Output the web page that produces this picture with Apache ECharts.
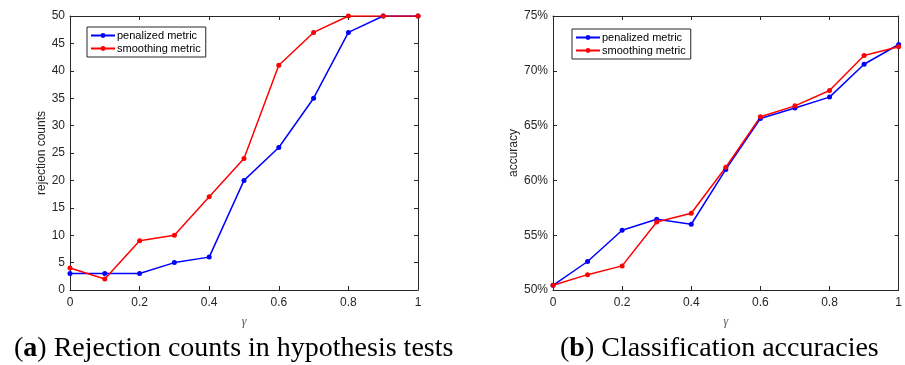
<!DOCTYPE html>
<html><head><meta charset="utf-8">
<script src="https://cdn.jsdelivr.net/npm/echarts@6/dist/echarts.min.js"></script>
<style>html,body{margin:0;padding:0;background:#fff}#c{width:905px;height:365px}</style>
</head><body><div id="c"></div>
<script>
const gammas = [0,0.1,0.2,0.3,0.4,0.5,0.6,0.7,0.8,0.9,1];
const rejPenalized = [3,3,3,5,6,20,26,35,47,50,50];
const rejSmoothing = [4,2,9,10,17,24,41,47,50,50,50];
const accPenalized = [50.43,52.6,55.45,56.45,56.0,61.0,65.65,66.6,67.6,70.6,72.4];
const accSmoothing = [50.43,51.4,52.2,56.2,57.0,61.2,65.8,66.8,68.2,71.4,72.2];
const seriesNames = ['penalized metric','smoothing metric'];
const captionA = 'Rejection counts in hypothesis tests';
const captionB = 'Classification accuracies';

const pairs = (xs, ys) => xs.map((x,i)=>[x, ys[i]]);
const AX = '#262626';
const SANS = '"Liberation Sans", Arial, sans-serif';
const SERIF = '"Liberation Serif", "DejaVu Serif", serif';
const tickStyle = {show:true, inside:true, length:4, lineStyle:{color:AX}};
const lineStyle = {lineStyle:{color:AX, width:1}};

function xAx(g, bottom){
  return {type:'value', gridIndex:g, min:0, max:1, interval:0.2,
    position: bottom ? 'bottom':'top',
    axisLine:{show:true, onZero:false, ...lineStyle}, axisTick:tickStyle,
    axisLabel:{show:bottom, color:AX, fontFamily:SANS, fontSize:12, margin:7,
      formatter:v=> (v===0||v===1)? String(v) : v.toFixed(1)},
    splitLine:{show:false},
    name: bottom ? 'γ' : '', nameLocation:'middle', nameGap:26,
    nameTextStyle:{fontFamily:SERIF, fontStyle:'italic', fontSize:12, color:'#555'}};
}
function yAx(g, left, min, max, interval, fmt, name, gap){
  return {type:'value', gridIndex:g, min, max, interval,
    position: left ? 'left':'right',
    axisLine:{show:true, onZero:false, ...lineStyle}, axisTick:tickStyle,
    axisLabel:{show:left, color:AX, fontFamily:SANS, fontSize:12, margin:5, formatter:fmt},
    splitLine:{show:false},
    name: left ? name : '', nameLocation:'middle', nameGap:gap, nameRotate:90,
    nameTextStyle:{fontFamily:SANS, fontSize:12, color:AX}};
}
function ser(name, color, data, xi, yi){
  return {type:'line', name, data, xAxisIndex:xi, yAxisIndex:yi,
    symbol:'circle', symbolSize:5, color,
    lineStyle:{color, width:1.5}, itemStyle:{color}, animation:false};
}
function leg(left, top){
  return {data:seriesNames, orient:'vertical', left, top,
    borderColor:AX, borderWidth:1, backgroundColor:'#fff', padding:[3,5,3,3],
    itemWidth:24, itemHeight:6, itemGap:2,
    textStyle:{fontFamily:SANS, fontSize:11, color:'#000', padding:[0,0,0,-3]}};
}
function cap(label, text, left){
  return {text:'{n|(}{b|'+label+'}{n|) '+text+'}', left, top:330,
    textStyle:{fontWeight:'normal', rich:{
      n:{fontFamily:SERIF, fontSize:28, fontWeight:'normal', color:'#000'},
      b:{fontFamily:SERIF, fontSize:28, fontWeight:'bold', color:'#000'}}}};
}

const chart = echarts.init(document.getElementById('c'), null, {renderer:'canvas'});
chart.setOption({
  animation:false,
  backgroundColor:'#fff',
  title:[cap('a', captionA, 9), cap('b', captionB, 555)],
  legend:[leg(87,27), leg(572,29)],
  grid:[
    {left:70, top:16, width:348, height:274},
    {left:553, top:16, width:348, height:274}
  ],
  xAxis:[xAx(0,true), xAx(0,false), xAx(1,true), xAx(1,false)],
  yAxis:[
    yAx(0,true,0,50,5,'{value}','rejection counts',21),
    yAx(0,false,0,50,5,'{value}','',0),
    yAx(1,true,50,75,5,'{value}%','accuracy',31),
    yAx(1,false,50,75,5,'{value}%','',0)
  ],
  series:[
    ser(seriesNames[0],'#0000ff',pairs(gammas,rejPenalized),0,0),
    ser(seriesNames[1],'#ff0000',pairs(gammas,rejSmoothing),0,0),
    ser(seriesNames[0],'#0000ff',pairs(gammas,accPenalized),2,2),
    ser(seriesNames[1],'#ff0000',pairs(gammas,accSmoothing),2,2)
  ]
});
</script></body></html>
